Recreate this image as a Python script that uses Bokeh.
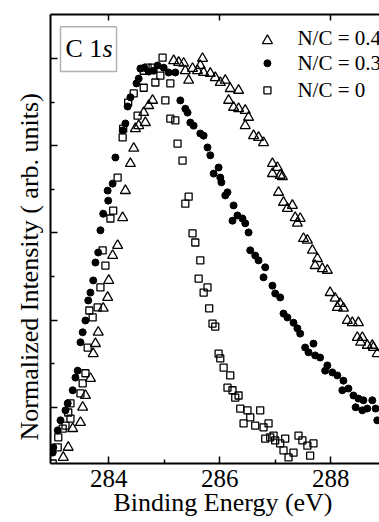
from bokeh.plotting import figure
from bokeh.models import FixedTicker, LinearAxis, Label, BoxAnnotation, Title
from bokeh.core.properties import value
from bokeh.embed import file_html
from bokeh.resources import INLINE

# ---- data (binding energy in eV, normalized intensity) ----
x_nc04 = [283.18, 283.27, 283.35, 283.49, 283.53, 283.58, 283.67, 283.72, 283.76, 283.81,
          283.90, 283.98, 284.00, 284.07, 284.16, 284.25, 284.30, 284.39, 284.45, 284.48,
          284.54, 284.63, 284.66, 284.72, 284.79, 285.17, 285.26, 285.35, 285.38, 285.44,
          285.51, 285.60, 285.65, 285.69, 285.71, 285.83, 285.92, 286.01, 286.10, 286.16,
          286.19, 286.25, 286.34, 286.34, 286.46, 286.46, 286.52, 286.61, 286.70, 286.79,
          286.95, 286.95, 287.04, 287.06, 287.09, 287.13, 287.15, 287.22, 287.31, 287.36,
          287.40, 287.45, 287.51, 287.58, 287.67, 287.72, 287.76, 287.85, 287.94, 287.99,
          288.08, 288.12, 288.17, 288.23, 288.30, 288.39, 288.48, 288.50, 288.54, 288.57,
          288.66, 288.75, 288.77, 288.84]
y_nc04 = [0.085, 0.108, 0.151, 0.165, 0.200, 0.227, 0.266, 0.323, 0.346, 0.372,
          0.427, 0.452, 0.491, 0.548, 0.571, 0.635, 0.697, 0.759, 0.794, 0.839,
          0.846, 0.876, 0.853, 0.892, 0.904, 0.995, 0.991, 0.989, 0.972, 0.950,
          0.977, 0.972, 0.984, 1.000, 0.968, 0.966, 0.956, 0.945, 0.950, 0.904,
          0.931, 0.888, 0.927, 0.885, 0.881, 0.846, 0.865, 0.823, 0.819, 0.807,
          0.759, 0.736, 0.750, 0.693, 0.732, 0.729, 0.670, 0.656, 0.663, 0.635,
          0.622, 0.633, 0.587, 0.583, 0.560, 0.525, 0.541, 0.518, 0.514, 0.463,
          0.450, 0.429, 0.438, 0.427, 0.399, 0.394, 0.360, 0.394, 0.349, 0.360,
          0.342, 0.342, 0.337, 0.323]

x_nc037 = [282.99, 283.00, 283.08, 283.13, 283.22, 283.26, 283.35, 283.40, 283.44, 283.49,
           283.53, 283.58, 283.63, 283.67, 283.72, 283.76, 283.81, 283.85, 283.90, 283.98,
           283.99, 284.07, 284.12, 284.25, 284.30, 284.34, 284.39, 284.50, 284.54, 284.57,
           284.64, 284.72, 284.81, 284.88, 284.99, 285.08, 285.20, 285.29, 285.38, 285.42,
           285.47, 285.53, 285.65, 285.71, 285.78, 285.83, 285.89, 285.98, 286.01, 286.03,
           286.10, 286.14, 286.23, 286.25, 286.32, 286.41, 286.46, 286.52, 286.55, 286.64,
           286.70, 286.79, 286.82, 286.95, 287.00, 287.09, 287.15, 287.22, 287.33, 287.40,
           287.45, 287.54, 287.60, 287.69, 287.72, 287.81, 287.90, 287.94, 288.03, 288.12,
           288.21, 288.23, 288.32, 288.41, 288.45, 288.50, 288.57, 288.59, 288.66, 288.75,
           288.81, 288.84]
y_nc037 = [0.096, 0.108, 0.147, 0.170, 0.193, 0.209, 0.239, 0.268, 0.284, 0.349,
           0.372, 0.399, 0.445, 0.463, 0.491, 0.532, 0.555, 0.606, 0.644, 0.697,
           0.674, 0.713, 0.773, 0.835, 0.851, 0.890, 0.911, 0.943, 0.954, 0.977,
           0.979, 0.970, 0.972, 0.984, 0.979, 0.968, 0.968, 0.904, 0.885, 0.876,
           0.853, 0.846, 0.828, 0.823, 0.796, 0.778, 0.736, 0.750, 0.727, 0.716,
           0.686, 0.693, 0.628, 0.663, 0.640, 0.633, 0.622, 0.601, 0.560, 0.548,
           0.537, 0.498, 0.521, 0.479, 0.461, 0.452, 0.415, 0.406, 0.394, 0.381,
           0.369, 0.337, 0.326, 0.346, 0.319, 0.314, 0.284, 0.296, 0.280, 0.273,
           0.239, 0.261, 0.243, 0.227, 0.200, 0.220, 0.193, 0.216, 0.197, 0.216,
           0.197, 0.170]

x_nc0 = [282.99, 283.08, 283.09, 283.17, 283.22, 283.27, 283.31, 283.31, 283.49, 283.53,
         283.58, 283.62, 283.65, 283.71, 283.80, 283.85, 283.89, 283.94, 284.03, 284.08,
         284.16, 284.25, 284.26, 284.35, 284.45, 284.52, 284.63, 284.63, 284.70, 284.79,
         284.84, 284.93, 284.97, 285.02, 285.11, 285.11, 285.20, 285.24, 285.33, 285.38,
         285.44, 285.51, 285.56, 285.62, 285.65, 285.71, 285.78, 285.81, 285.87, 285.92,
         285.98, 286.01, 286.07, 286.14, 286.19, 286.23, 286.28, 286.34, 286.37, 286.43,
         286.50, 286.55, 286.64, 286.73, 286.79, 286.82, 286.88, 286.91, 286.97, 287.00,
         287.09, 287.15, 287.18, 287.24, 287.33, 287.42, 287.49, 287.58, 287.63, 287.69]
y_nc0 = [0.071, 0.108, 0.131, 0.151, 0.158, 0.188, 0.174, 0.209, 0.232, 0.255,
         0.278, 0.337, 0.422, 0.406, 0.429, 0.475, 0.560, 0.525, 0.633, 0.651,
         0.727, 0.819, 0.839, 0.899, 0.920, 0.869, 0.933, 0.972, 0.979, 0.979,
         0.945, 0.961, 1.002, 0.904, 0.943, 0.862, 0.858, 0.805, 0.766, 0.667,
         0.683, 0.599, 0.578, 0.495, 0.537, 0.463, 0.475, 0.427, 0.392, 0.385,
         0.323, 0.312, 0.291, 0.245, 0.273, 0.239, 0.222, 0.227, 0.197, 0.163,
         0.193, 0.177, 0.158, 0.193, 0.154, 0.128, 0.163, 0.131, 0.135, 0.124,
         0.117, 0.101, 0.128, 0.085, 0.096, 0.135, 0.124, 0.112, 0.089, 0.117]

series_labels = ["N/C = 0.4", "N/C = 0.37", "N/C = 0"]
x_major_ticks = [284, 286, 288]
x_minor_ticks = [285, 287]
y_major_ticks = [0.2, 0.4, 0.6, 0.8, 1.0]
y_minor_ticks = [0.1, 0.3, 0.5, 0.7, 0.9]

FONT = "Liberation Serif"

p = figure(width=379, height=522, x_range=(282.95, 288.88), y_range=(0.071, 1.101),
           output_backend="svg", toolbar_location=None,
           min_border_left=50, min_border_right=0, min_border_top=14, min_border_bottom=59)
p.outline_line_color = None
p.xgrid.grid_line_color = None
p.ygrid.grid_line_color = None
p.background_fill_color = "white"
p.border_fill_color = "white"

# bottom axis
xa = p.xaxis[0]
xa.ticker = FixedTicker(ticks=x_major_ticks, minor_ticks=x_minor_ticks)
xa.major_tick_in = 7
xa.major_tick_out = 0
xa.minor_tick_in = 4
xa.minor_tick_out = 0
xa.axis_line_width = 2
xa.major_tick_line_width = 1.5
xa.minor_tick_line_width = 1.5
xa.major_label_text_font = FONT
xa.major_label_text_font_size = "25px"
xa.major_label_text_color = "black"
xa.major_label_standoff = 6

p.add_layout(Title(text="Binding Energy (eV)", align="left", offset=63,
                   vertical_align="bottom", standoff=-7, text_font=FONT,
                   text_font_size="26px", text_font_style="normal",
                   text_color="black"), "below")

# left axis (ticks only)
ya = p.yaxis[0]
ya.ticker = FixedTicker(ticks=y_major_ticks, minor_ticks=y_minor_ticks)
ya.major_tick_in = 7
ya.major_tick_out = 0
ya.minor_tick_in = 4
ya.minor_tick_out = 0
ya.axis_line_width = 2
ya.major_tick_line_width = 1.5
ya.minor_tick_line_width = 1.5
ya.major_label_text_font_size = "1px"
ya.major_label_text_color = None
ya.major_label_standoff = 0

p.add_layout(Title(text="Normalized Intensity ( arb. units)", align="left", offset=23,
                   vertical_align="bottom", standoff=14, text_font=FONT,
                   text_font_size="26px", text_font_style="normal",
                   text_color="black"), "left")

# top axis (ticks only)
ta = LinearAxis(ticker=FixedTicker(ticks=x_major_ticks, minor_ticks=[]),
                major_tick_in=6, major_tick_out=0, minor_tick_in=0, minor_tick_out=0,
                axis_line_width=2, major_tick_line_width=1.5,
                major_label_text_font_size="1px", major_label_text_color=None,
                major_label_standoff=0)
p.add_layout(ta, "above")

# data
p.scatter(x_nc04, y_nc04, marker="triangle", size=10, fill_color=None,
          line_color="black", line_width=1.3)
p.scatter(x_nc037, y_nc037, marker="circle", size=7, fill_color="black",
          line_color="black")
p.scatter(x_nc0, y_nc0, marker="square", size=7, fill_color=None,
          line_color="black", line_width=1.3)

# legend (drawn as glyphs so it is clipped by the frame like the original)
leg_y = [1.048, 0.989, 0.927]
p.scatter([286.86], [leg_y[0] - 0.007], marker="triangle", size=10, fill_color=None,
          line_color="black", line_width=1.3)
p.scatter([286.86], [leg_y[1]], marker="circle", size=7, fill_color="black", line_color="black")
p.scatter([286.86], [leg_y[2]], marker="square", size=7, fill_color=None,
          line_color="black", line_width=1.3)
p.text(x=[287.40] * 3, y=leg_y, text=series_labels, text_font=value(FONT),
       text_font_size="21px", text_baseline="middle", text_color="black")

# "C 1s" box
p.add_layout(BoxAnnotation(left=283.13, right=284.14, bottom=0.970, top=1.073,
                           fill_color=None, line_color="black", line_width=1.5))
p.add_layout(Label(x=283.22, y=1.022, text="C 1", text_font=FONT, text_font_size="26px",
                   text_baseline="middle", text_color="black"))
p.add_layout(Label(x=283.22, y=1.022, x_offset=37, text="s", text_font=FONT,
                   text_font_size="26px", text_font_style="italic",
                   text_baseline="middle", text_color="black"))

open("out.html", "w").write(file_html(p, INLINE))
